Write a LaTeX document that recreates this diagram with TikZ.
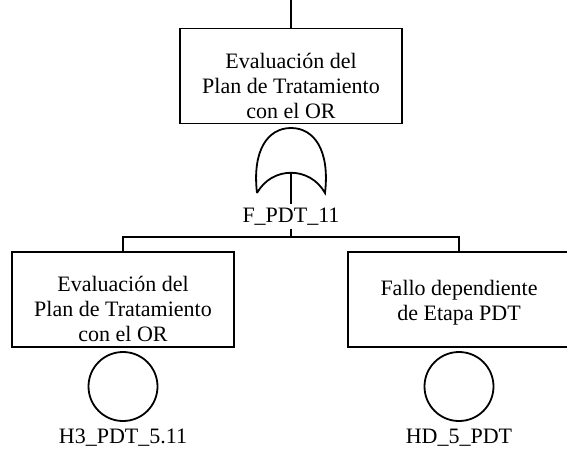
\documentclass[tikz,border=0pt]{standalone}
\usepackage{fontspec}
\setmainfont{Liberation Serif}
\usetikzlibrary{positioning}

\begin{document}
\begin{tikzpicture}[x=1pt,y=-1pt,line width=1.8pt,
    evbox/.style={draw, minimum width=222pt, minimum height=95pt, inner sep=0pt},
    evtext/.style={align=center, inner sep=0pt, font=\fontsize{22}{25}\selectfont},
    basicev/.style={draw, circle, minimum size=69pt, inner sep=0pt},
    gatelbl/.style={inner sep=3pt, font=\fontsize{22}{25}\selectfont}]

    \useasboundingbox (0,0) rectangle (567,448);

    % top event
    \coordinate (in) at (291,0);
    \node[evbox] (topev) at (291,76) {};
    \node[evtext] (toptext) at (291,86) {Evaluación del\\Plan de Tratamiento\\con el OR};
    \draw (in) -- (topev.north);

    % OR gate
    \coordinate (ortop) at (291,128);
    \coordinate (orfoot) at (291,173);
    \draw (257,193)
        .. controls (252,150) and (268,128) .. (ortop)
        .. controls (314,128) and (330,150) .. (325,193)
        .. controls (310,166) and (272,166) .. (257,193);
    \node[gatelbl, anchor=base] (gatelabel) at (291,222) {F\_PDT\_11};
    \draw (orfoot) -- (gatelabel);

    % inputs
    \coordinate (bar) at (291,237);
    \node[evbox] (leftev) at (123,299.5) {};
    \node[evtext] (lefttext) at (123,309) {Evaluación del\\Plan de Tratamiento\\con el OR};
    \node[evbox] (rightev) at (459,299.5) {};
    \node[evtext] (righttext) at (459,303) {Fallo dependiente\\de Etapa PDT};
    \draw (gatelabel.south) -- (bar);
    \draw (leftev.north) |- (bar) -| (rightev.north);

    % basic events
    \node[basicev] (leftbe) at (123,386.5) {};
    \node[basicev] (rightbe) at (459,386.5) {};
    \node[evtext, anchor=base] (leftlbl) at (123,443) {H3\_PDT\_5.11};
    \node[evtext, anchor=base] (rightlbl) at (459,443) {HD\_5\_PDT};

\end{tikzpicture}
\end{document}
